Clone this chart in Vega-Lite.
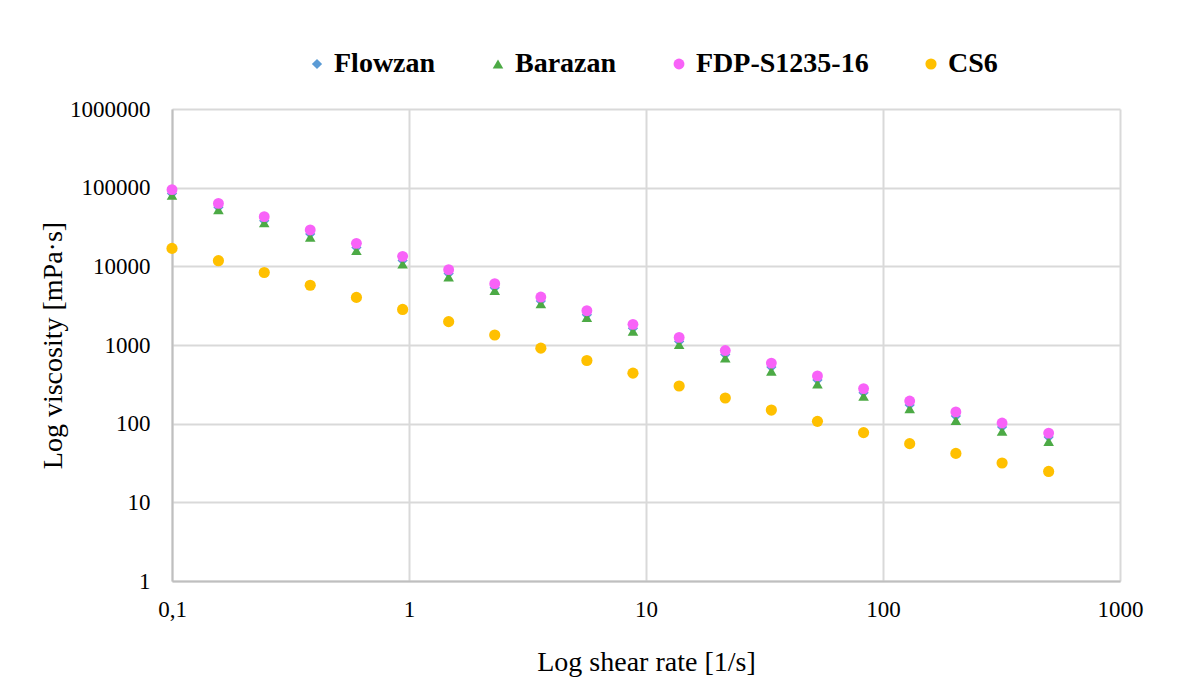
{
  "$schema": "https://vega.github.io/schema/vega-lite/v6.json",
  "width": 948,
  "height": 472,
  "autosize": {"type": "none"},
  "padding": {"left": 172, "top": 109, "right": 78, "bottom": 113},
  "background": "#ffffff",
  "data": {
    "values": [
      {"series": "Flowzan", "rate": 0.1, "visc": 84000},
      {"series": "Flowzan", "rate": 0.157, "visc": 56200},
      {"series": "Flowzan", "rate": 0.245, "visc": 38100},
      {"series": "Flowzan", "rate": 0.383, "visc": 25800},
      {"series": "Flowzan", "rate": 0.6, "visc": 17400},
      {"series": "Flowzan", "rate": 0.94, "visc": 11900},
      {"series": "Flowzan", "rate": 1.47, "visc": 8080},
      {"series": "Flowzan", "rate": 2.3, "visc": 5360},
      {"series": "Flowzan", "rate": 3.6, "visc": 3620},
      {"series": "Flowzan", "rate": 5.63, "visc": 2430},
      {"series": "Flowzan", "rate": 8.81, "visc": 1630},
      {"series": "Flowzan", "rate": 13.8, "visc": 1110},
      {"series": "Flowzan", "rate": 21.6, "visc": 757},
      {"series": "Flowzan", "rate": 33.8, "visc": 524},
      {"series": "Flowzan", "rate": 52.9, "visc": 360},
      {"series": "Flowzan", "rate": 82.8, "visc": 248},
      {"series": "Flowzan", "rate": 129.6, "visc": 173},
      {"series": "Flowzan", "rate": 203, "visc": 125},
      {"series": "Flowzan", "rate": 318, "visc": 90.8},
      {"series": "Flowzan", "rate": 500, "visc": 67.5},

      {"series": "Barazan", "rate": 0.1, "visc": 80000},
      {"series": "Barazan", "rate": 0.157, "visc": 52500},
      {"series": "Barazan", "rate": 0.245, "visc": 35800},
      {"series": "Barazan", "rate": 0.383, "visc": 23500},
      {"series": "Barazan", "rate": 0.6, "visc": 15900},
      {"series": "Barazan", "rate": 0.94, "visc": 10700},
      {"series": "Barazan", "rate": 1.47, "visc": 7330},
      {"series": "Barazan", "rate": 2.3, "visc": 4940},
      {"series": "Barazan", "rate": 3.6, "visc": 3350},
      {"series": "Barazan", "rate": 5.63, "visc": 2240},
      {"series": "Barazan", "rate": 8.81, "visc": 1500},
      {"series": "Barazan", "rate": 13.8, "visc": 1015},
      {"series": "Barazan", "rate": 21.6, "visc": 687},
      {"series": "Barazan", "rate": 33.8, "visc": 466},
      {"series": "Barazan", "rate": 52.9, "visc": 321},
      {"series": "Barazan", "rate": 82.8, "visc": 224},
      {"series": "Barazan", "rate": 129.6, "visc": 155},
      {"series": "Barazan", "rate": 203, "visc": 110},
      {"series": "Barazan", "rate": 318, "visc": 80.5},
      {"series": "Barazan", "rate": 500, "visc": 59.6},

      {"series": "FDP-S1235-16", "rate": 0.1, "visc": 94400},
      {"series": "FDP-S1235-16", "rate": 0.157, "visc": 63100},
      {"series": "FDP-S1235-16", "rate": 0.245, "visc": 42800},
      {"series": "FDP-S1235-16", "rate": 0.383, "visc": 29000},
      {"series": "FDP-S1235-16", "rate": 0.6, "visc": 19600},
      {"series": "FDP-S1235-16", "rate": 0.94, "visc": 13400},
      {"series": "FDP-S1235-16", "rate": 1.47, "visc": 9080},
      {"series": "FDP-S1235-16", "rate": 2.3, "visc": 6020},
      {"series": "FDP-S1235-16", "rate": 3.6, "visc": 4070},
      {"series": "FDP-S1235-16", "rate": 5.63, "visc": 2730},
      {"series": "FDP-S1235-16", "rate": 8.81, "visc": 1830},
      {"series": "FDP-S1235-16", "rate": 13.8, "visc": 1250},
      {"series": "FDP-S1235-16", "rate": 21.6, "visc": 851},
      {"series": "FDP-S1235-16", "rate": 33.8, "visc": 589},
      {"series": "FDP-S1235-16", "rate": 52.9, "visc": 405},
      {"series": "FDP-S1235-16", "rate": 82.8, "visc": 279},
      {"series": "FDP-S1235-16", "rate": 129.6, "visc": 194},
      {"series": "FDP-S1235-16", "rate": 203, "visc": 141},
      {"series": "FDP-S1235-16", "rate": 318, "visc": 102},
      {"series": "FDP-S1235-16", "rate": 500, "visc": 75.9},

      {"series": "CS6", "rate": 0.1, "visc": 16900},
      {"series": "CS6", "rate": 0.157, "visc": 11800},
      {"series": "CS6", "rate": 0.245, "visc": 8350},
      {"series": "CS6", "rate": 0.383, "visc": 5750},
      {"series": "CS6", "rate": 0.6, "visc": 4030},
      {"series": "CS6", "rate": 0.94, "visc": 2830},
      {"series": "CS6", "rate": 1.47, "visc": 1980},
      {"series": "CS6", "rate": 2.3, "visc": 1340},
      {"series": "CS6", "rate": 3.6, "visc": 912},
      {"series": "CS6", "rate": 5.63, "visc": 635},
      {"series": "CS6", "rate": 8.81, "visc": 439},
      {"series": "CS6", "rate": 13.8, "visc": 301},
      {"series": "CS6", "rate": 21.6, "visc": 212},
      {"series": "CS6", "rate": 33.8, "visc": 149},
      {"series": "CS6", "rate": 52.9, "visc": 107},
      {"series": "CS6", "rate": 82.8, "visc": 77},
      {"series": "CS6", "rate": 129.6, "visc": 55.7},
      {"series": "CS6", "rate": 203, "visc": 41.9},
      {"series": "CS6", "rate": 318, "visc": 31.6},
      {"series": "CS6", "rate": 500, "visc": 24.7}
    ]
  },
  "mark": {"type": "point", "filled": true, "opacity": 1, "strokeWidth": 0},
  "encoding": {
    "x": {
      "field": "rate",
      "type": "quantitative",
      "scale": {"type": "log", "domain": [0.1, 1000], "nice": false},
      "axis": {
        "title": "Log shear rate [1/s]",
        "values": [0.1, 1, 10, 100, 1000],
        "labelExpr": "replace(format(datum.value, '~r'), '.', ',')",
        "labelFlush": false,
        "labelPadding": 17,
        "titlePadding": 27
      }
    },
    "y": {
      "field": "visc",
      "type": "quantitative",
      "scale": {"type": "log", "domain": [1, 1000000], "nice": false},
      "axis": {
        "title": "Log viscosity [mPa·s]",
        "values": [1, 10, 100, 1000, 10000, 100000, 1000000],
        "format": "d",
        "labelFlush": false,
        "labelPadding": 22,
        "titlePadding": 2
      }
    },
    "color": {
      "field": "series",
      "type": "nominal",
      "title": null,
      "scale": {
        "domain": ["Flowzan", "Barazan", "FDP-S1235-16", "CS6"],
        "range": ["#5b9bd5", "#4caa45", "#f862f8", "#ffc000"]
      }
    },
    "shape": {
      "field": "series",
      "type": "nominal",
      "title": null,
      "scale": {
        "domain": ["Flowzan", "Barazan", "FDP-S1235-16", "CS6"],
        "range": ["diamond", "triangle-up", "circle", "circle"]
      }
    },
    "size": {
      "field": "series",
      "type": "nominal",
      "title": null,
      "scale": {
        "domain": ["Flowzan", "Barazan", "FDP-S1235-16", "CS6"],
        "range": [105, 125, 95, 205]
      }
    }
  },
  "config": {
    "view": {"stroke": null},
    "font": "Liberation Serif",
    "axis": {
      "labelFont": "Liberation Serif",
      "labelFontSize": 23,
      "labelColor": "#000000",
      "titleFont": "Liberation Serif",
      "titleFontSize": 28,
      "titleFontWeight": "normal",
      "titleColor": "#000000",
      "grid": true,
      "gridColor": "#d9d9d9",
      "gridWidth": 2,
      "domainColor": "#bfbfbf",
      "domainWidth": 2,
      "ticks": false,
      "tickSize": 0
    },
    "legend": {
      "orient": "none",
      "direction": "horizontal",
      "legendX": 131,
      "legendY": -59,
      "padding": 0,
      "labelFont": "Liberation Serif",
      "labelFontSize": 28,
      "labelFontWeight": "bold",
      "labelColor": "#000000",
      "labelLimit": 0,
      "labelOffset": 3,
      "columnPadding": 48,
      "symbolStrokeWidth": 0
    }
  }
}
